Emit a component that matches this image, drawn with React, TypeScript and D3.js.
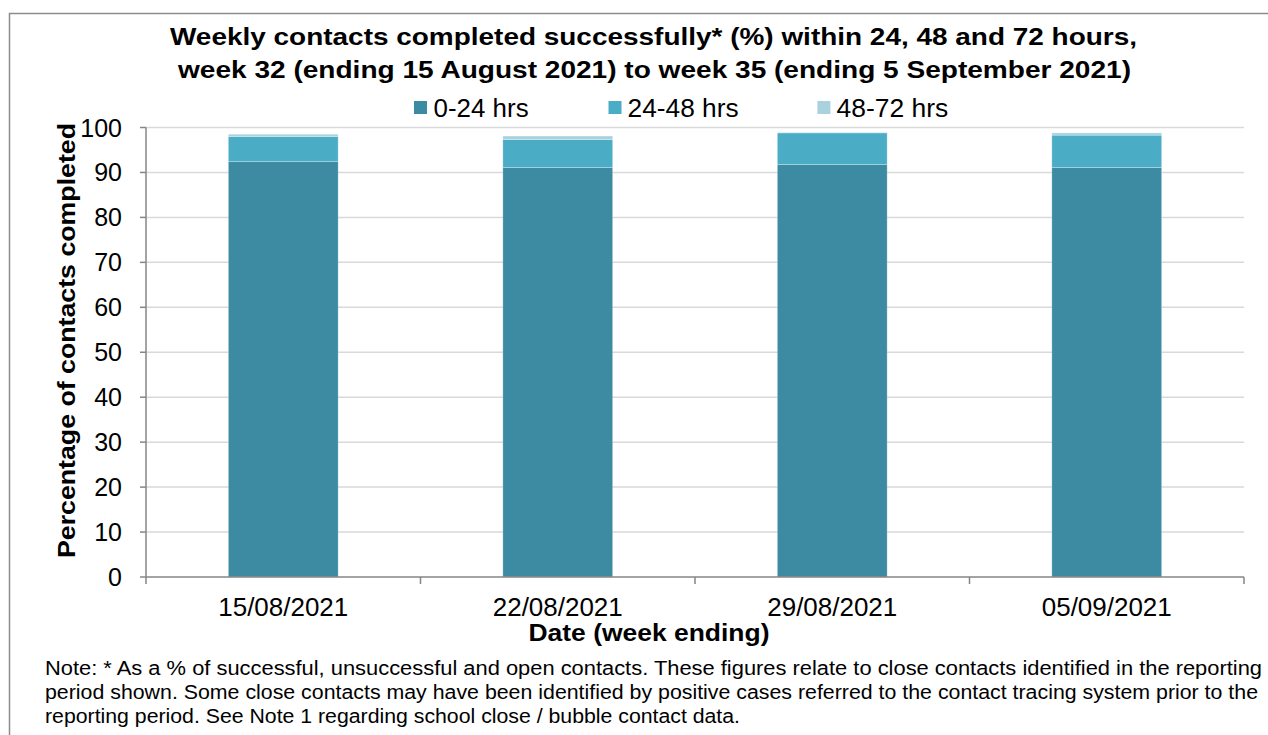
import React from "react";
import * as d3 from "d3";

const categories = ["15/08/2021", "22/08/2021", "29/08/2021", "05/09/2021"];
const seriesNames = ["0-24 hrs", "24-48 hrs", "48-72 hrs"];
const hrs0to24 = [92.4, 91.1, 91.8, 91.1];
const hrs24to48 = [5.6, 6.2, 7.0, 7.2];
const hrs48to72 = [0.5, 0.8, 0.1, 0.5];
const yTicks = [0, 10, 20, 30, 40, 50, 60, 70, 80, 90, 100];
const colors = ["#3D8BA3", "#4BACC6", "#A9D1DE"];
const titleLines = [
  "Weekly contacts completed successfully* (%) within 24, 48 and 72 hours,",
  "week 32 (ending 15 August 2021) to week 35 (ending 5 September 2021)",
];
const noteLines = [
  "Note: * As a % of successful, unsuccessful and open contacts. These figures relate to close contacts identified in the reporting",
  "period shown. Some close contacts may have been identified by positive cases referred to the contact tracing system prior to the",
  "reporting period. See Note 1 regarding school close / bubble contact data.",
];

const W = 1268;
const H = 735;
const M = { left: 146, right: 1244, top: 127.5, bottom: 577 };
const FONT = "'Liberation Sans', Arial, sans-serif";
const titleLayout = [
  { cx: 653.5, y: 45, len: 967 },
  { cx: 654.5, y: 78.3, len: 953 },
];
const legendLayout = [
  { sx: 414, tx: 433.6, len: 95 },
  { sx: 608.5, tx: 627.6, len: 111 },
  { sx: 817.4, tx: 836.6, len: 111.7 },
];
const noteLayout = [
  { y: 675, len: 1217 },
  { y: 699, len: 1213 },
  { y: 722.7, len: 695 },
];

export default function App() {
  const x = d3.scaleBand<string>().domain(categories).range([M.left, M.right]).paddingInner(0).paddingOuter(0);
  const y = d3.scaleLinear().domain([0, 100]).range([M.bottom, M.top]);
  const rows = categories.map((c, i) => ({ cat: c, a: hrs0to24[i], b: hrs24to48[i], c: hrs48to72[i] }));
  const stack = d3.stack<any>().keys(["a", "b", "c"])(rows);
  const bw = x.bandwidth() * 0.4;
  const axisColor = "#868686";

  return (
    <svg width={W} height={H} style={{ position: "absolute", left: 0, top: 0 }} fontFamily={FONT}>
      <rect x={0} y={0} width={W} height={H} fill="#fff" />
      <rect x={9.5} y={13.5} width={1270} height={740} fill="none" stroke="#8C8C8C" strokeWidth={1.5} />
      {titleLines.map((t, i) => (
        <text
          key={i}
          x={titleLayout[i].cx}
          y={titleLayout[i].y}
          textAnchor="middle"
          fontSize={23}
          fontWeight="bold"
          fill="#000"
          textLength={titleLayout[i].len}
          lengthAdjust="spacingAndGlyphs"
        >
          {t}
        </text>
      ))}
      {seriesNames.map((s, i) => (
        <g key={s}>
          <rect x={legendLayout[i].sx} y={101} width={13} height={13} fill={colors[i]} />
          <text
            x={legendLayout[i].tx}
            y={116.5}
            fontSize={25}
            fill="#000"
            textLength={legendLayout[i].len}
            lengthAdjust="spacingAndGlyphs"
          >
            {s}
          </text>
        </g>
      ))}
      {yTicks.map((t) => (
        <g key={t}>
          {t > 0 && <line x1={M.left} x2={M.right} y1={y(t)} y2={y(t)} stroke="#D9D9D9" strokeWidth={1.5} />}
          <line x1={140} x2={M.left} y1={y(t)} y2={y(t)} stroke={axisColor} strokeWidth={1.5} />
          <text
            x={122}
            y={y(t) + 9}
            textAnchor="end"
            fontSize={25}
            fill="#000"
            textLength={String(t).length * 13.9}
            lengthAdjust="spacingAndGlyphs"
          >
            {t}
          </text>
        </g>
      ))}
      {stack.map((layer, li) =>
        layer.map((d, i) => (
          <rect
            key={li + "-" + i}
            x={(x(categories[i]) as number) + (x.bandwidth() - bw) / 2}
            y={y(d[1])}
            width={bw}
            height={y(d[0]) - y(d[1])}
            fill={colors[li]}
            stroke="#ffffff"
            strokeOpacity={0.35}
            strokeWidth={0.75}
          />
        ))
      )}
      <line x1={M.left} x2={M.left} y1={M.top} y2={M.bottom} stroke={axisColor} strokeWidth={1.5} />
      <line x1={M.left} x2={M.right} y1={M.bottom} y2={M.bottom} stroke={axisColor} strokeWidth={1.5} />
      {categories.map((c) => (
        <g key={c}>
          <line x1={x(c) as number} x2={x(c) as number} y1={M.bottom} y2={M.bottom + 7} stroke={axisColor} strokeWidth={1.5} />
          <text
            x={(x(c) as number) + x.bandwidth() / 2}
            y={616}
            textAnchor="middle"
            fontSize={25}
            fill="#000"
            textLength={130}
            lengthAdjust="spacingAndGlyphs"
          >
            {c}
          </text>
        </g>
      ))}
      <line x1={M.right} x2={M.right} y1={M.bottom} y2={M.bottom + 7} stroke={axisColor} strokeWidth={1.5} />
      <text
        x={649}
        y={641}
        textAnchor="middle"
        fontSize={24}
        fontWeight="bold"
        fill="#000"
        textLength={241}
        lengthAdjust="spacingAndGlyphs"
      >
        Date (week ending)
      </text>
      <text
        transform={`translate(75, 340.5) rotate(-90)`}
        textAnchor="middle"
        fontSize={24}
        fontWeight="bold"
        fill="#000"
        textLength={435}
        lengthAdjust="spacingAndGlyphs"
      >
        Percentage of contacts completed
      </text>
      {noteLines.map((t, i) => (
        <text
          key={i}
          x={45}
          y={noteLayout[i].y}
          fontSize={20}
          fill="#000"
          textLength={noteLayout[i].len}
          lengthAdjust="spacingAndGlyphs"
        >
          {t}
        </text>
      ))}
    </svg>
  );
}
